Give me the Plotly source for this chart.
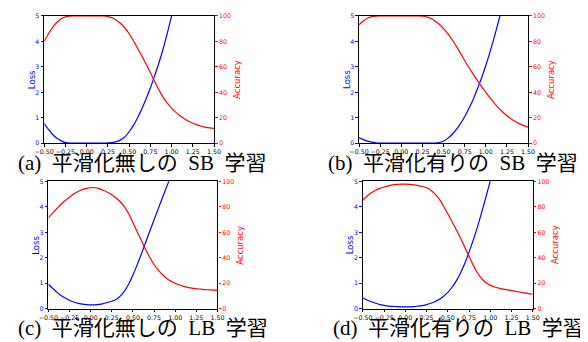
import plotly.graph_objects as go

# page body has an 8px default margin; the figure is sized to fit the window
OFF = 8
FW, FH = 588 - OFF, 342 - OFF


def px(x):
    return (x - OFF) / FW


def py(y):
    return 1 - (y - OFF) / FH


x_vals = [-0.5, -0.45, -0.4, -0.35, -0.3, -0.25, -0.2, -0.15, -0.1, -0.05, 0.0,
          0.05, 0.1, 0.15, 0.2, 0.25, 0.3, 0.35, 0.4, 0.45, 0.5,
          0.55, 0.6, 0.65, 0.7, 0.75, 0.8, 0.85, 0.9, 0.95, 1.0,
          1.05, 1.1, 1.15, 1.2, 1.25, 1.3, 1.35, 1.4, 1.45, 1.5]

loss_a = [0.77, 0.54, 0.34, 0.19, 0.09, 0.02, 0, 0, 0, 0, 0,
          0, 0, 0, 0, 0.01, 0.02, 0.06, 0.13, 0.25, 0.45,
          0.7, 1.0, 1.35, 1.75, 2.17, 2.65, 3.15, 3.7, 4.33, 5.0,
          5.7, 6.4, 7.2, 8.0, 8.8, 9.7, 10.6, 11.5, 12.5, 13.5]
acc_a = [80, 86, 91, 95, 97.8, 99.3, 99.9, 100, 100, 100, 100,
         100, 100, 100, 100, 99.5, 98.5, 96.5, 94, 90.5, 86,
         80.5, 74.5, 68.5, 62, 55.5, 48.5, 42, 36, 31.5, 27.5,
         24.2, 21.5, 19.2, 17.3, 15.7, 14.4, 13.3, 12.5, 12, 11.7]

loss_b = [0.22, 0.14, 0.08, 0.04, 0.015, 0.005, 0, 0, 0, 0, 0,
          0, 0, 0, 0, 0, 0, 0, 0.005, 0.02, 0.085,
          0.19, 0.34, 0.53, 0.77, 1.04, 1.36, 1.72, 2.13, 2.57, 3.06,
          3.59, 4.17, 4.78, 5.44, 6.1, 6.9, 7.7, 8.5, 9.4, 10.3]
acc_b = [93, 96, 98.2, 99.4, 99.9, 100, 100, 100, 100, 100, 100,
         100, 100, 100, 100, 99.8, 99.2, 98, 96, 93.5, 90,
         86, 81.5, 76.3, 70.8, 65, 59.5, 54.3, 49.3, 44.5, 40,
         35.6, 31.5, 27.8, 24.5, 21.6, 19.1, 17, 15.2, 13.8, 12.6]

loss_c = [0.96, 0.8, 0.65, 0.52, 0.42, 0.33, 0.26, 0.21, 0.18, 0.16, 0.15,
          0.15, 0.17, 0.2, 0.24, 0.29, 0.36, 0.49, 0.69, 0.97, 1.32,
          1.72, 2.15, 2.6, 3.05, 3.49, 3.93, 4.37, 4.8, 5.22, 5.62,
          6.0, 6.4, 6.8, 7.2, 7.6, 8.0, 8.4, 8.8, 9.2, 9.6]
acc_c = [71.3, 75, 78.5, 82, 85, 87.5, 90, 92, 93.5, 94.5, 95,
         95, 94.3, 93, 91.5, 89.5, 87, 84, 80, 74.5, 67.5,
         60.5, 53.5, 46.5, 40.2, 34.7, 30.2, 26.6, 23.7, 21.5, 19.9,
         18.6, 17.5, 16.7, 16.1, 15.7, 15.3, 15, 14.8, 14.6, 14.4]

loss_d = [0.42, 0.34, 0.27, 0.21, 0.16, 0.13, 0.1, 0.09, 0.08, 0.07, 0.07,
          0.07, 0.08, 0.1, 0.12, 0.16, 0.21, 0.28, 0.37, 0.49, 0.64,
          0.84, 1.09, 1.4, 1.78, 2.22, 2.7, 3.22, 3.8, 4.4, 5.02,
          5.65, 6.3, 6.9, 7.5, 8.1, 8.7, 9.3, 9.9, 10.5, 11.1]
acc_d = [85.4, 88.5, 91, 93, 94.5, 95.6, 96.5, 97.2, 97.6, 97.8, 97.8,
         97.6, 97.2, 96.7, 96, 95, 93, 90, 86, 80.5, 74.5,
         68.3, 62, 55.3, 48.3, 41, 34, 28, 23.5, 20.3, 18.3,
         17, 16.1, 15.4, 14.8, 14.2, 13.6, 13, 12.4, 11.8, 11.3]

x_ticks = [-0.5, -0.25, 0.0, 0.25, 0.5, 0.75, 1.0, 1.25, 1.5]
x_tick_labels = ["\u22120.50", "\u22120.25", "0.00", "0.25", "0.50", "0.75", "1.00", "1.25", "1.50"]
loss_ticks = [0, 1, 2, 3, 4, 5]
acc_ticks = [0, 20, 40, 60, 80, 100]

captions = ["(a)  平滑化無しの  SB  学習",
            "(b)  平滑化有りの  SB  学習",
            "(c)  平滑化無しの  LB  学習",
            "(d)  平滑化有りの  LB  学習"]

panels = [
    (loss_a, acc_a, (35, 210), (12, 142), 136, 162),
    (loss_b, acc_b, (359.3, 533.5), (12, 142), 456, 162),
    (loss_c, acc_c, (39.3, 213.5), (181, 311), 137, 331),
    (loss_d, acc_d, (363.3, 538.3), (181, 311), 462, 331),
]

BLUE = "#0000ff"
RED = "#ff0000"
tickfont = dict(family="DejaVu Sans", size=6.3)

fig = go.Figure()
layout = dict(width=FW, height=FH, margin=dict(l=0, r=0, t=0, b=0),
              paper_bgcolor="white", plot_bgcolor="white", showlegend=False)
annotations = []

for i, (loss, acc, (x0, x1), (y0, y1), cx, cy) in enumerate(panels):
    xa = f"x{'' if i == 0 else i + 1}"
    yl_n = 2 * i + 1
    yr_n = 2 * i + 2
    yl = f"y{'' if yl_n == 1 else yl_n}"
    yr = f"y{yr_n}"
    fig.add_trace(go.Scatter(x=x_vals, y=loss, mode="lines", xaxis=xa, yaxis=yl,
                             line=dict(color=BLUE, width=1.2, shape="spline", smoothing=0.8)))
    fig.add_trace(go.Scatter(x=x_vals, y=acc, mode="lines", xaxis=xa, yaxis=yr,
                             line=dict(color=RED, width=1.2, shape="spline", smoothing=0.8)))
    xdom = [px(x0), px(x1)]
    ydom = [py(y1), py(y0)]
    xkey = "xaxis" if i == 0 else f"xaxis{i + 1}"
    ylkey = "yaxis" if yl_n == 1 else f"yaxis{yl_n}"
    yrkey = f"yaxis{yr_n}"
    layout[xkey] = dict(domain=xdom, range=[-0.5, 1.5], anchor=yl, showgrid=False, zeroline=False,
                        showline=True, linecolor="black", linewidth=1.2, mirror=True,
                        ticks="outside", ticklen=2.5, tickcolor="black", tickwidth=1,
                        tickvals=x_ticks, ticktext=x_tick_labels, tickangle=0,
                        tickfont=dict(tickfont, color="black"))
    layout[ylkey] = dict(domain=ydom, range=[0, 5], anchor=xa, showgrid=False, zeroline=False,
                         showline=True, linecolor="black", linewidth=1.2,
                         ticks="outside", ticklen=2.5, tickcolor=BLUE, tickwidth=1,
                         tickvals=loss_ticks, tickfont=dict(tickfont, color=BLUE))
    layout[yrkey] = dict(domain=ydom, range=[0, 100], anchor=xa, overlaying=yl, side="right",
                         showgrid=False, zeroline=False,
                         showline=True, linecolor="black", linewidth=1.2,
                         ticks="outside", ticklen=2.5, tickcolor=RED, tickwidth=1,
                         tickvals=acc_ticks, tickfont=dict(tickfont, color=RED))
    ym = py((y0 + y1) / 2)
    annotations.append(dict(text="Loss", x=px(x0 - 13), y=ym, xref="paper", yref="paper",
                            textangle=-90, showarrow=False, xanchor="center", yanchor="middle",
                            font=dict(family="DejaVu Sans", size=8.5, color=BLUE)))
    annotations.append(dict(text="Accuracy", x=px(x1 + 23), y=ym, xref="paper", yref="paper",
                            textangle=-90, showarrow=False, xanchor="center", yanchor="middle",
                            font=dict(family="DejaVu Sans", size=8.5, color=RED)))
    annotations.append(dict(text=captions[i], x=px(cx), y=py(cy), xref="paper", yref="paper",
                            showarrow=False, xanchor="center", yanchor="middle",
                            font=dict(family="Liberation Serif, Noto Sans CJK JP", size=21,
                                      color="black")))

layout["annotations"] = annotations
fig.update_layout(**layout)
fig.write_html("out.html")
